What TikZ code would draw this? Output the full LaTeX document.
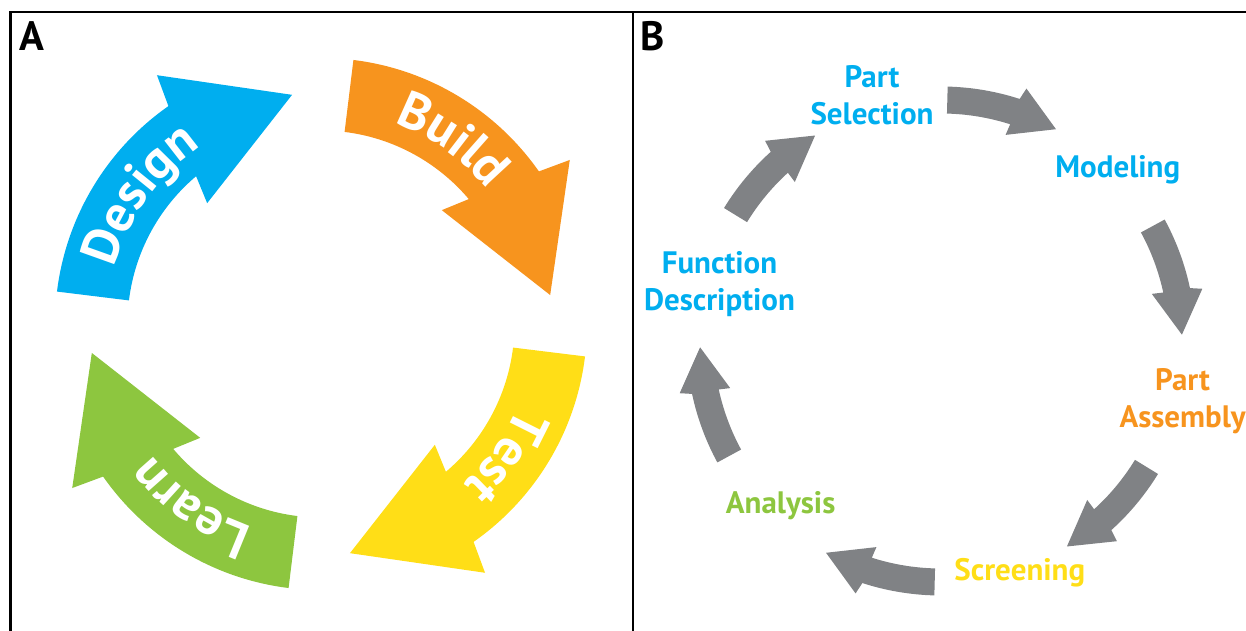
\documentclass[tikz,border=0pt]{standalone}
\usepackage{fontspec}
\setmainfont{PT Sans}
\usetikzlibrary{decorations.text}

\definecolor{designblue}{RGB}{0,174,239}
\definecolor{buildorange}{RGB}{247,148,30}
\definecolor{testyellow}{RGB}{255,222,23}
\definecolor{learngreen}{RGB}{141,198,63}
\definecolor{cyclegray}{RGB}{128,130,133}

\newcommand\armfont{\fontsize{52}{52}\selectfont\bfseries\color{white}}

\tikzset{
  panel/.style={line width=2.4pt, black},
  panellabel/.style={font=\fontsize{41}{41}\selectfont\bfseries, inner sep=0pt, anchor=base west},
  steplabel/.style={font=\fontsize{31}{37}\selectfont\bfseries, align=center, inner sep=0pt},
  armtext/.style={decorate, decoration={text along path, text align=center, text={|\armfont|#1}}},
}

\begin{document}
\begin{tikzpicture}[x=1pt,y=1pt]
\useasboundingbox (0,0) rectangle (1246,631);
\draw[panel] (10.5,0) -- (10.5,619) -- (1246,619);
\draw[panel] (632.7,0) -- (632.7,619);
\node[panellabel] (labA) at (19,580) {A};
\node[panellabel] (labB) at (640,580) {B};

% A: design-build-test-learn wheel
\coordinate (cA) at (321,307);
\foreach \k/\col/\word in {0/designblue/Design,1/buildorange/Build,2/testyellow/Test,3/learngreen/Learn}{
  \pgfmathsetmacro\rot{-90*\k}
  \begin{scope}[shift={(cA)}]
  \fill[\col] ({173+\rot}:266) arc[start angle=173+\rot, end angle=125+\rot, radius=266]
    -- ({123.4+\rot}:298) -- ({97.2+\rot}:231) -- ({133.3+\rot}:166) -- ({130.2+\rot}:193.5)
    arc[start angle=130.2+\rot, end angle=173+\rot, radius=193.5] -- cycle;
  \path[armtext/.expanded=\word] ({180+\rot}:214) arc[start angle=180+\rot, end angle=109+\rot, radius=214];
  \end{scope}
}

% B: workflow cycle
\coordinate (cB) at (941,290);
\foreach \k in {0,...,5}{
  \pgfmathsetmacro\ang{148.5-60*\k}
  \begin{scope}[shift={(cB)}]
  \fill[cyclegray] (\ang:254.5) arc[start angle=\ang, end angle=\ang-16.5, radius=254.5]
    -- ({\ang-17.2}:266.5) -- ({\ang-27}:241) -- ({\ang-15.9}:216) -- ({\ang-16.2}:227.5)
    arc[start angle=\ang-16.2, end angle=\ang, radius=227.5] -- cycle;
  \end{scope}
}

\node[steplabel, text=designblue] (sel) at (872,535.5) {Part\\Selection};
\node[steplabel, text=designblue] (model) at (1117.8,461) {Modeling};
\node[steplabel, text=buildorange] (assem) at (1182.6,230) {Part\\Assembly};
\node[steplabel, text=testyellow] (screen) at (1019.8,58.5) {Screening};
\node[steplabel, text=learngreen] (anal) at (780.6,125) {Analysis};
\node[steplabel, text=designblue] (func) at (719.5,347) {Function\\Description};
\end{tikzpicture}
\end{document}
